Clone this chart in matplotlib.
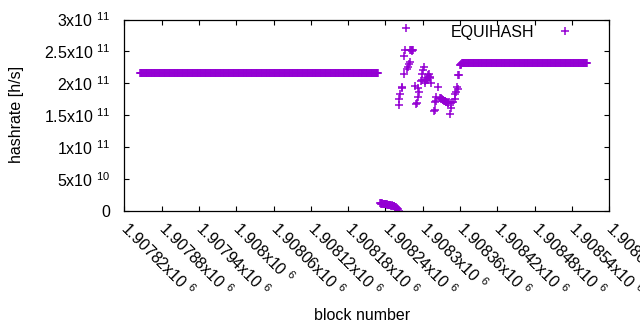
import numpy as np
import matplotlib
matplotlib.use("Agg")
import matplotlib.pyplot as plt

plt.rcParams['font.family'] = ['Liberation Sans', 'DejaVu Sans']
plt.rcParams['mathtext.fontset'] = 'custom'
plt.rcParams['mathtext.rm'] = 'Liberation Sans'
plt.rcParams['mathtext.it'] = 'Liberation Sans'
plt.rcParams['mathtext.default'] = 'regular'

# ---- data ----
# first plateau: blocks and constant hashrate
plateau1_first, plateau1_last = 1907845, 1908228
plateau1_value = 2.16e11

# collapse near zero
low_blocks = list(range(1908231, 1908262))
low_values = [12.0e9, 11.5e9, 12.2e9, 11.0e9, 11.8e9, 10.9e9, 11.3e9, 10.5e9, 11.0e9, 10.2e9,
              10.8e9, 9.9e9, 10.4e9, 9.6e9, 10.1e9, 9.2e9, 9.7e9, 9.0e9, 8.6e9, 9.1e9,
              8.2e9, 7.8e9, 8.3e9, 7.2e9, 6.8e9, 6.1e9, 5.5e9, 4.6e9, 3.8e9, 2.4e9, 0.5e9]

# scattered recovery region
scatter_blocks = [1908261, 1908262, 1908264, 1908266, 1908267, 1908269, 1908270, 1908271,
                  1908273, 1908274, 1908276, 1908278, 1908279,
                  1908280, 1908281, 1908282, 1908283, 1908284,
                  1908288, 1908289, 1908290, 1908292, 1908293, 1908294,
                  1908297, 1908298, 1908299, 1908301, 1908302,
                  1908303, 1908304, 1908305, 1908306, 1908307, 1908308, 1908309, 1908310,
                  1908311, 1908312, 1908313,
                  1908318, 1908319, 1908320, 1908321, 1908322, 1908325,
                  1908328, 1908329, 1908330, 1908331, 1908332, 1908333, 1908334, 1908335,
                  1908336, 1908337, 1908338, 1908339, 1908340, 1908341, 1908342,
                  1908344, 1908345, 1908346, 1908349, 1908351, 1908352, 1908353, 1908355,
                  1908356, 1908357, 1908359,
                  1908360, 1908361, 1908362]
scatter_values = [1.66e11, 1.75e11, 1.84e11, 1.95e11, 1.92e11, 2.15e11, 2.43e11, 2.52e11,
                  2.87e11, 2.22e11, 2.26e11, 2.30e11, 2.34e11,
                  2.52e11, 2.53e11, 2.51e11, 2.52e11, 2.53e11,
                  1.96e11, 1.68e11, 1.69e11, 1.78e11, 1.92e11, 1.87e11,
                  2.03e11, 2.06e11, 2.14e11, 2.21e11, 2.26e11,
                  2.04e11, 2.00e11, 2.05e11, 2.08e11, 2.06e11, 2.10e11, 2.13e11, 2.14e11,
                  2.10e11, 2.08e11, 2.01e11,
                  1.56e11, 1.58e11, 1.71e11, 1.73e11, 1.79e11, 1.94e11,
                  1.77e11, 1.76e11, 1.77e11, 1.75e11, 1.74e11, 1.74e11, 1.73e11, 1.72e11,
                  1.72e11, 1.71e11, 1.71e11, 1.70e11, 1.69e11, 1.69e11, 1.70e11,
                  1.52e11, 1.61e11, 1.69e11, 1.71e11, 1.75e11, 1.84e11, 1.87e11, 1.95e11,
                  1.91e11, 2.13e11, 2.13e11,
                  2.28e11, 2.29e11, 2.30e11]

# second plateau
plateau2_first, plateau2_last = 1908363, 1908564
plateau2_value = 2.315e11

series_name = "EQUIHASH"

xtick_values = [1907820, 1907880, 1907940, 1908000, 1908060, 1908120, 1908180,
                1908240, 1908300, 1908360, 1908420, 1908480, 1908540, 1908600]
xtick_labels = ["1.90782x10 $^{6}$", "1.90788x10 $^{6}$", "1.90794x10 $^{6}$", "1.908x10 $^{6}$",
                "1.90806x10 $^{6}$", "1.90812x10 $^{6}$", "1.90818x10 $^{6}$", "1.90824x10 $^{6}$",
                "1.9083x10 $^{6}$", "1.90836x10 $^{6}$", "1.90842x10 $^{6}$", "1.90848x10 $^{6}$",
                "1.90854x10 $^{6}$", "1.9086x10 $^{6}$"]
ytick_values = [0, 5e10, 1e11, 1.5e11, 2e11, 2.5e11, 3e11]
ytick_labels = ["0", "5x10 $^{10}$", "1x10 $^{11}$", "1.5x10 $^{11}$", "2x10 $^{11}$",
                "2.5x10 $^{11}$", "3x10 $^{11}$"]

# ---- assemble single series ----
p1_blocks = np.arange(plateau1_first, plateau1_last + 1)
p2_blocks = np.arange(plateau2_first, plateau2_last + 1)
x = np.concatenate([p1_blocks, low_blocks, scatter_blocks, p2_blocks])
y = np.concatenate([np.full(p1_blocks.size, plateau1_value), low_values, scatter_values,
                    np.full(p2_blocks.size, plateau2_value)])

FS = 11.5
color = '#9400d3'
W, H = 640, 330
fig = plt.figure(figsize=(W / 100, H / 100), dpi=100)
L, R, T, B = 124.4, 609.3, 19.5, 211.0
ax = fig.add_axes([L / W, 1 - B / H, (R - L) / W, (B - T) / H])

ax.plot(x, y, linestyle='none', marker='+', ms=5.5, mew=1.1, color=color, label=series_name)

ax.set_xlim(1907820, 1908600)
ax.set_ylim(0, 3e11)
ax.set_xticks(xtick_values)
ax.set_xticklabels(xtick_labels)
ax.set_yticks(ytick_values)
ax.set_yticklabels(ytick_labels)

ax.tick_params(direction='in', length=3.3, width=0.8, top=True, right=True,
               labelsize=FS, colors='black')
ax.tick_params(axis='y', pad=10)
ax.tick_params(axis='x', pad=10)
for lab in ax.get_xticklabels():
    lab.set_rotation(-45)
    lab.set_ha('left')
    lab.set_va('center')
    lab.set_rotation_mode('anchor')
for s in ax.spines.values():
    s.set_linewidth(0.9)
    s.set_color('black')

leg = ax.legend(loc='center right', bbox_to_anchor=(1 - 28 / (R - L), 1 - 13 / (B - T)),
                frameon=False, markerfirst=False, fontsize=FS, handlelength=2.0,
                handletextpad=0.95, borderpad=0, borderaxespad=0)

fig.text(16.4 / W, 1 - 114 / H, "hashrate [h/s]", rotation=90, ha='center', va='center',
         fontsize=FS)
fig.text(361.7 / W, 1 - 315 / H, "block number", ha='center', va='center', fontsize=FS)

fig.savefig("out.png", dpi=100)
